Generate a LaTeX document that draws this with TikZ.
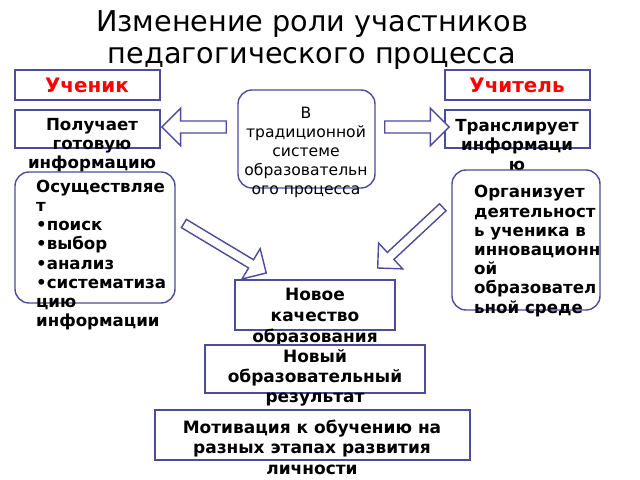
\documentclass[tikz,border=0pt]{standalone}
\usepackage{fontspec}
\setmainfont{DejaVu Sans}
\usetikzlibrary{shapes.arrows}

\tikzset{
  box/.style={draw=blue!45!black!70, line width=1.2pt, anchor=north west},
  rbox/.style={box, rounded corners=12pt},
  txt/.style={font=\bfseries\fontsize{14.2}{16.4}\selectfont, align=center},
  blk/.style={single arrow, draw=blue!45!black!70, line width=1.2pt, fill=white,
    single arrow head extend=11pt, inner sep=4.5pt}
}

\begin{document}
\begin{tikzpicture}[x=0.03cm, y=-0.03cm]

\useasboundingbox (0,0) rectangle (640,480);

% title
\node[font=\fontsize{24.5}{28}\selectfont, align=center] (title) at (312,40)
  {Изменение роли участников\\педагогического процесса};

% roles
\draw[box] (15,70) rectangle (160,100);
\node[txt, text=red, font=\bfseries\fontsize{17}{18}\selectfont] (pupil) at (87,85) {Ученик};
\draw[box] (445,70) rectangle (590,100);
\node[txt, text=red, font=\bfseries\fontsize{17}{18}\selectfont] (teacher) at (517,85) {Учитель};

% traditional
\draw[box] (15,110) rectangle (160,148);
\node[txt] (gets) at (92,145) {Получает\\готовую\\информацию};
\draw[box] (445,110) rectangle (590,148);
\node[txt] (sends) at (517,145) {Транслирует\\информаци\\ю};

\draw[rbox] (238,90) rectangle (375,188);
\node[align=center, font=\fontsize{13.3}{16.2}\selectfont] (trad) at (306,152)
  {В\\традиционной\\системе\\образовательн\\ого процесса};

\node[blk, minimum height=55, shape border rotate=180] (al) at (197,127) {};
\node[blk, minimum height=55] (ar) at (414,127) {};

% innovative
\draw[rbox] (15,172) rectangle (175,303);
\node[txt, align=left, anchor=west] (does) at (32,255)
  {Осуществляе\\т\\•поиск\\•выбор\\•анализ\\•систематиза\\цию\\информации};
\draw[rbox] (452,170) rectangle (600,310);
\node[txt, align=left, anchor=west] (org) at (470,251)
  {Организует\\деятельност\\ь ученика в\\инновационн\\ой\\образовател\\ьной среде};

\node[blk, minimum height=82, rotate=-31, inner sep=3.5pt] (dl) at (223,247) {};
\node[blk, minimum height=76, rotate=-137, inner sep=3.5pt] (dr) at (412,236) {};

% results
\draw[box] (235,280) rectangle (395,330);
\node[txt, font=\bfseries\fontsize{14.5}{18}\selectfont] (quality) at (315,317) {Новое\\качество\\образования};
\draw[box] (205,345) rectangle (425,393);
\node[txt, font=\bfseries\fontsize{14.5}{17}\selectfont] (result) at (315,378) {Новый\\образовательный\\результат};
\draw[box] (155,410) rectangle (470,460);
\node[txt, font=\bfseries\fontsize{14.5}{17.5}\selectfont] (motiv) at (312,447) {Мотивация к обучению на\\разных этапах развития\\личности};

\end{tikzpicture}
\end{document}
